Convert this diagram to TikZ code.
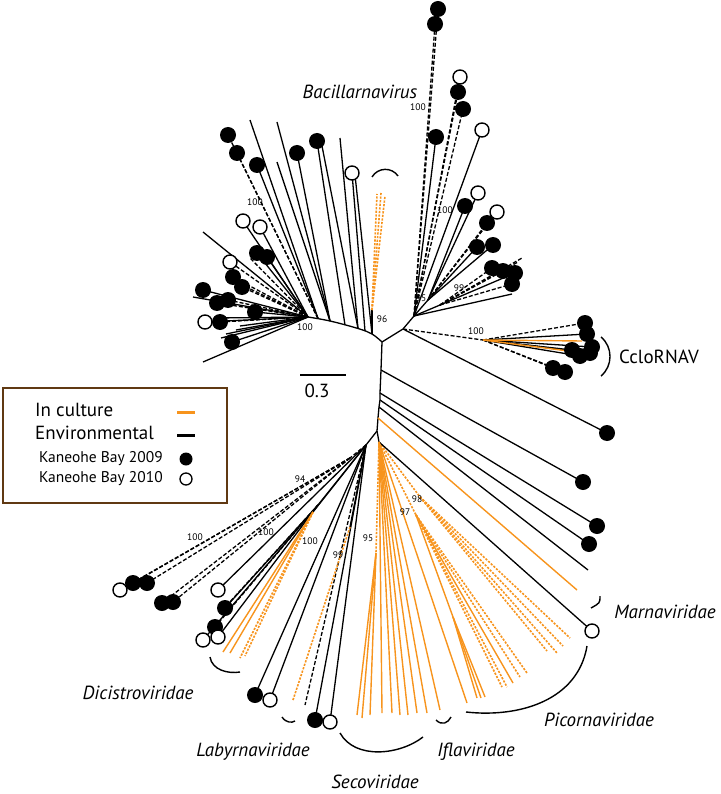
\documentclass[tikz,border=0pt]{standalone}
\usepackage{fontspec}
\setmainfont{PT Sans}
\definecolor{orng}{RGB}{247,148,29}
\definecolor{brn}{RGB}{96,57,19}
\tikzset{
  bl/.style={line width=1.3pt, black},
  bld/.style={line width=1.3pt, black, dash pattern=on 4pt off 2pt},
  ol/.style={line width=1.4pt, orng},
  old/.style={line width=1.6pt, orng, dash pattern=on 2.2pt off 1.4pt},
  fdot/.style={circle, fill=black, inner sep=0pt, minimum size=16pt},
  odot/.style={circle, fill=white, draw=black, line width=1.4pt, inner sep=0pt, minimum size=14pt},
  bsv/.style={font=\fontsize{9.5}{10}\selectfont, inner sep=0pt},
  fam/.style={font=\itshape\fontsize{19}{22}\selectfont, inner sep=0pt},
  brk/.style={line width=1.4pt, black},
  lgt/.style={anchor=west, inner sep=0pt},
}
\begin{document}
\begin{tikzpicture}[x=1pt,y=-1pt]
\useasboundingbox (0,0) rectangle (720,794);
% internal nodes
\coordinate (A) at (382,342);
\coordinate (B) at (403,329);
\coordinate (N95) at (414,316);
\coordinate (NR) at (428,300);
\coordinate (N99) at (440,305);
\coordinate (Ccl) at (483,340);
\coordinate (N96) at (372,334);
\coordinate (N96t) at (372,310);
\coordinate (P4) at (365,331);
\coordinate (P3) at (358,328.5);
\coordinate (P2) at (345,325);
\coordinate (P1) at (330,321);
\coordinate (P0) at (318,318.5);
\coordinate (NL) at (308,317);
\coordinate (S1) at (381,370);
\coordinate (S2) at (380,393);
\coordinate (S3) at (380,400);
\coordinate (S4) at (379,407);
\coordinate (S5) at (378,418);
\coordinate (C) at (377,431);
\coordinate (D) at (379,442);
\coordinate (E) at (366,445);
\coordinate (N98) at (420,497);
\coordinate (N97) at (416,515);
\coordinate (N97b) at (453,617);
\coordinate (N95b) at (376,553);
\coordinate (N94) at (350,458);
\coordinate (N100b) at (318,505);
\coordinate (N100c) at (313,512);
\coordinate (N99b) at (350,527);
% backbone
\draw[bl] plot[smooth, tension=0.6] coordinates {(NL) (P1) (P3) (N96) (A)};
\draw[bl] (A) -- (B) -- (N95) -- (NR);
\draw[bl] (N95) -- (N99);
\draw[bl] (N96) -- (N96t);
\draw[bld] (B) -- (Ccl);
\draw[bl] (A) -- (S1) -- (S2) -- (S3) -- (S4) -- (S5) -- (C) -- (D);
\draw[bl] (C) -- (E);
\draw[bld] (E) -- (N94);
\draw[bl] (E) -- (N100b);
\draw[bl] (E) -- (N100c);
\draw[bl] (E) -- (N99b);
\draw[old] (D) -- (N98);
\draw[old] (D) -- (N97);
\draw[old] (D) -- (N95b);
\draw[ol] (N97) -- (N97b);
% black solid leaves
\foreach \p/\n/\x/\y in {P0/t1/250/120, P1/t2/277/122, P1/d1/297/153, P1/t3/277/162, P2/d2/317/141, P3/d2b/322/146, P3/t5/340/138, P4/o1/352/173, N96/o1b/355/175, P0/d3/257/165,
 NL/L1/203/232, NL/o2/243/221, NL/o3/260/227, NL/d6/257/253, NL/d7/267/257, NL/d8/203/290, NL/L2/193/297, NL/d9/255/312, NL/o5/205/322, NL/d10/232/342, NL/L3/203/362, NL/L4/226/334, NL/L5/236/330, NL/L6/240/326, NL/L7/221/338, NL/L8/215/318,
 N95/e3/436/137, N95/f4/482/130, NR/g1/478/193, NR/g2/465/206, NR/g5/477/247, NR/g6/493/245, N99/h3/515/273, N95/i1/512/294,
 Ccl/c2/587/334, Ccl/c3/592/347, Ccl/c4/572/350, Ccl/c5/580/356, Ccl/c6/590/353,
 B/k1/607/433, S1/k2/583/482, S2/k3/597/526, S3/k4/589/544, S4/k5/588/570, D/k7/592/631,
 E/q6/218/590, N100b/q7/225/608, N100b/q9/203/640, N100b/q10/218/637, E/q11/255/695, E/q12/270/700, E/q14/315/720, E/q15/330/722}
 {\coordinate (\n) at (\x,\y); \draw[bl] (\p) -- (\n);}
% black dashed leaves
\foreach \p/\n/\x/\y in {P0/d4/237/153, P0/d5/228/135, NL/o4/230/262, NL/d11/233/277, NL/d12/242/287, NL/d13/217/303, NL/d14/228/300, NL/d15/220/322, NL/x1/250/258, NL/x2/238/283,
 N95/e1/438/9, N95/e2/435/24, N95/f1/460/77, N95/f2/458/92, N95/f3/463/109, NR/g3/497/212, NR/g4/487/223, N99/h1/492/268, N99/h2/503/271, N99/h4/512/284, N99/h5/518/262, N99/h6/522/258,
 Ccl/c1/585/323, Ccl/c9/553/368, Ccl/c10/565/372,
 N94/q1/147/583, N94/q2/133/583, N94/q3/120/590, N94/q4/162/603, N94/q5/173/602, N100b/q8/215/627, N100b/q8b/228/604, E/q13/305/705}
 {\coordinate (\n) at (\x,\y); \draw[bld] (\p) -- (\n);}
% orange solid leaves
\foreach \p/\n/\x/\y in {Ccl/c7/582/341, Ccl/c8/576/352, S5/k6/577/590, N97/m9/513/683, N97b/m10/485/697, N97b/m11/481/698, N97b/m12/477/698, D/m13/467/703, D/m14/440/710, D/m15/427/713, D/m16/417/713, D/m17/408/715, D/m18/400/715, D/m19/392/713, D/m20/382/713, N95b/m21/370/715, N95b/m22/362/718, N95b/m23/357/715, N100c/r1/223/652, N100c/r2/230/653}
 {\coordinate (\n) at (\x,\y); \draw[ol] (\p) -- (\n);}
% orange dotted leaves
\foreach \p/\n/\x/\y in {N96t/b1/377/194, N96t/b2/381/193, N96t/b3/385/196, N98/m1/570/638, N98/m2/563/646, N98/m3/557/653, N98/m4/547/651, N97/m5/527/673, N97/m6/520/677, N97/m7/507/687, N97/m8/502/687, N100c/r3/240/658, N100c/r4/245/656, N99b/r5/293/700}
 {\coordinate (\n) at (\x,\y); \draw[old] (\p) -- (\n);}
% markers
\foreach \n in {d1,d2,d3,d4,d5,d6,d7,d8,d9,d10,d11,d12,d13,d14,d15,e1,e2,e3,f2,f3,g2,g4,g5,g6,h1,h2,h3,h4,c1,c2,c3,c4,c5,c6,c9,c10,k1,k2,k3,k4,q1,q2,q4,q5,q7,q8,q11,q14}
 {\node[fdot] (m\n) at (\n) {};}
\foreach \n in {o1,o2,o3,o4,o5,f1,f4,g1,g3,k7,q3,q6,q9,q10,q12,q15}
 {\node[odot] (m\n) at (\n) {};}
% bootstrap values
\node[bsv] (bv1) at (255,202) {100};
\node[bsv] (bv2) at (305,327) {100};
\node[bsv] (bv3) at (382,319) {96};
\node[bsv] (bv4) at (418,107) {100};
\node[bsv] (bv5) at (445,210) {100};
\node[bsv] (bv6) at (421,298) {95};
\node[bsv] (bv7) at (459,288) {99};
\node[bsv] (bv8) at (476,331) {100};
\node[bsv] (bv9) at (300,479) {94};
\node[bsv] (bv10) at (195,537) {100};
\node[bsv] (bv11) at (266,532) {100};
\node[bsv] (bv12) at (310,541) {100};
\node[bsv] (bv13) at (338,555) {99};
\node[bsv] (bv14) at (368,538) {95};
\node[bsv] (bv15) at (417,499) {98};
\node[bsv] (bv16) at (405,512) {97};
% brackets
\draw[brk] (372,177) .. controls (378,167) and (392,167) .. (398,176);
\draw[brk] (601,337) .. controls (613,347) and (613,366) .. (601,376);
\draw[brk] (600,596) .. controls (600,603) .. (591,608);
\draw[brk] (587,646) .. controls (578,700) and (520,718) .. (466,712);
\draw[brk] (436,720) .. controls (442,726) and (448,723) .. (451,717);
\draw[brk] (340,733) .. controls (355,760) and (400,755) .. (423,737);
\draw[brk] (282,717) .. controls (286,723) and (292,723) .. (295,721);
\draw[brk] (210,657) .. controls (212,670) and (228,674) .. (240,672);
% group labels
\node[fam] (lb1) at (360,92) {Bacillarnavirus};
\node[font=\fontsize{19}{22}\selectfont, inner sep=0pt] (lb2) at (659,357) {CcloRNAV};
\node[fam] (lb3) at (665,612) {Marnaviridae};
\node[fam] (lb4) at (599,720) {Picornaviridae};
\node[fam] (lb5) at (476,752) {Iflaviridae};
\node[fam] (lb6) at (375,782) {Secoviridae};
\node[fam] (lb7) at (253,752) {Labyrnaviridae};
\node[fam] (lb8) at (138,693) {Dicistroviridae};
% scale bar
\coordinate (sb1) at (300,375);
\coordinate (sb2) at (346,375);
\draw[bl] (sb1) -- (sb2);
\node[font=\fontsize{19}{22}\selectfont, inner sep=0pt] (sbl) at (317,391) {0.3};
% legend
\node[draw=brn, line width=2pt, minimum width=224pt, minimum height=115pt, anchor=north west, inner sep=0pt] (legend) at (2,387) {};
\node[lgt, font=\fontsize{19}{22}\selectfont] (lg1) at (35,410) {In culture};
\node[lgt, font=\fontsize{19}{22}\selectfont] (lg2) at (35,433) {Environmental};
\node[lgt, font=\fontsize{15.5}{18}\selectfont] (lg3) at (39,459) {Kaneohe Bay 2009};
\node[lgt, font=\fontsize{15.5}{18}\selectfont] (lg4) at (39,479) {Kaneohe Bay 2010};
\coordinate (lo1) at (177,412); \coordinate (lo2) at (195,412);
\coordinate (lk1) at (177,435); \coordinate (lk2) at (195,435);
\draw[orng, line width=3pt] (lo1) -- (lo2);
\draw[black, line width=3pt] (lk1) -- (lk2);
\node[circle, fill=black, inner sep=0pt, minimum size=13pt] (ld1) at (186,459) {};
\node[circle, draw=black, fill=white, line width=1.3pt, inner sep=0pt, minimum size=12pt] (ld2) at (186,479) {};
\end{tikzpicture}
\end{document}
